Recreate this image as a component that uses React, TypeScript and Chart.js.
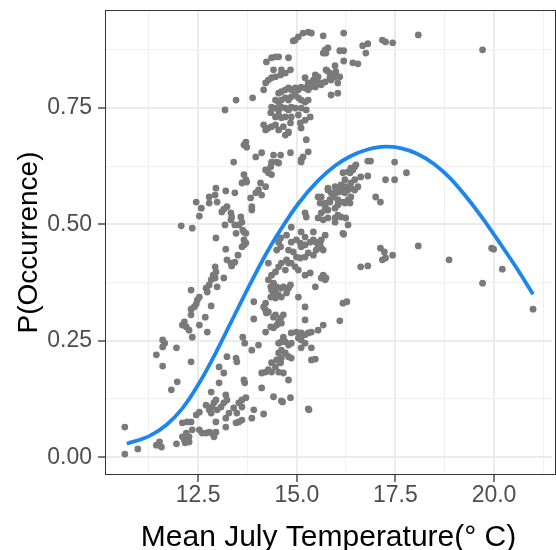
import React, { useEffect, useRef } from "react";
import { Chart, registerables } from "chart.js";

Chart.register(...registerables);

// ---------- data: [mean July temperature (°C), P(occurrence)] ----------
const upperCluster: [number, number][] = [
  [14.96, 0.896], [15.04, 0.903], [15.29, 0.913], [15.37, 0.911], [15.16, 0.911], [14.91, 0.894],
  [15.67, 0.905], [16.19, 0.911], [18.08, 0.907], [19.71, 0.875],
  [15.67, 0.868], [15.74, 0.868], [15.72, 0.875], [15.79, 0.879], [16.09, 0.873], [16.19, 0.873],
  [16.67, 0.884], [16.80, 0.888], [17.17, 0.896], [17.25, 0.892], [17.43, 0.890], [16.75, 0.868],
  [16.42, 0.847], [16.55, 0.845], [16.19, 0.851], [15.77, 0.830], [15.97, 0.841], [15.99, 0.828],
  [16.09, 0.817], [15.87, 0.810], [15.72, 0.806], [15.59, 0.804], [15.87, 0.778], [16.04, 0.782],
  [15.84, 0.825],
  [14.23, 0.849], [14.36, 0.858], [14.46, 0.860], [14.54, 0.860], [14.79, 0.858], [14.41, 0.832],
  [14.61, 0.832], [14.84, 0.832], [14.21, 0.804], [14.28, 0.810], [14.36, 0.815], [14.46, 0.817],
  [14.59, 0.821], [14.71, 0.825], [14.16, 0.789], [13.88, 0.772], [13.46, 0.767], [13.18, 0.746],
  [15.21, 0.815], [15.29, 0.804], [15.42, 0.810], [15.47, 0.821], [15.54, 0.817], [15.74, 0.832],
  [15.84, 0.815], [15.97, 0.817], [16.04, 0.804],
  [14.54, 0.782], [14.61, 0.785], [14.71, 0.789], [14.79, 0.793], [14.86, 0.789], [14.96, 0.793],
  [15.04, 0.789], [15.11, 0.795], [15.21, 0.793], [15.29, 0.789], [15.34, 0.795], [15.37, 0.800],
  [15.47, 0.795], [15.54, 0.804], [15.62, 0.800],
  [14.46, 0.767], [14.54, 0.763], [14.61, 0.767], [14.71, 0.772], [14.79, 0.767], [14.86, 0.774],
  [14.96, 0.778], [15.04, 0.772], [15.11, 0.767], [15.21, 0.763], [15.29, 0.767],
  [14.36, 0.752], [14.46, 0.750], [14.54, 0.746], [14.61, 0.752], [14.71, 0.750], [14.79, 0.746],
  [14.86, 0.752], [14.96, 0.750], [15.11, 0.750], [15.24, 0.746],
  [14.34, 0.740], [14.46, 0.731], [14.54, 0.735], [14.61, 0.729], [14.71, 0.731], [14.86, 0.731],
  [15.04, 0.735],
  [14.16, 0.714], [14.21, 0.703], [14.28, 0.707], [14.36, 0.710], [14.46, 0.714], [14.54, 0.703],
  [14.66, 0.710], [14.79, 0.699], [14.84, 0.718], [15.09, 0.718], [15.11, 0.707], [15.21, 0.724],
  [15.34, 0.731],
  [15.24, 0.682], [14.79, 0.697], [14.71, 0.692], [13.71, 0.677], [13.66, 0.671], [13.73, 0.666],
  [13.96, 0.645], [14.11, 0.654], [14.41, 0.649], [14.59, 0.649], [14.84, 0.654], [15.29, 0.656],
  [15.16, 0.645], [14.36, 0.634], [14.54, 0.632], [15.11, 0.639], [13.40, 0.634],
];

const upperMidBand: [number, number][] = [
  [13.66, 0.607], [13.71, 0.596], [13.61, 0.589], [13.73, 0.591], [14.21, 0.617], [14.28, 0.611],
  [14.34, 0.624], [14.36, 0.607], [14.08, 0.589], [14.21, 0.581], [14.03, 0.574], [13.96, 0.568],
  [14.11, 0.563], [13.83, 0.557], [13.86, 0.538], [13.86, 0.531], [13.58, 0.516], [13.61, 0.505],
  [13.53, 0.499], [13.71, 0.481], [13.66, 0.467], [13.71, 0.460], [14.49, 0.634], [15.11, 0.634],
  [12.95, 0.578], [13.20, 0.572], [13.43, 0.568], [12.78, 0.559], [12.93, 0.563], [12.45, 0.548],
  [12.78, 0.546], [12.98, 0.548], [12.58, 0.535], [12.53, 0.518], [13.15, 0.533], [13.23, 0.538],
  [13.10, 0.527], [13.33, 0.525], [13.35, 0.516], [13.33, 0.510], [13.63, 0.488], [12.07, 0.497],
  [12.35, 0.492], [13.18, 0.499], [13.43, 0.499], [13.46, 0.481], [13.66, 0.484], [12.95, 0.471],
  [13.61, 0.452], [13.20, 0.447], [13.51, 0.434], [13.23, 0.424], [13.33, 0.417], [13.43, 0.419],
  [13.35, 0.411], [12.93, 0.409], [12.95, 0.398], [12.88, 0.391], [12.93, 0.385], [12.83, 0.381],
  [12.78, 0.370], [12.70, 0.363], [12.73, 0.355], [13.15, 0.385], [12.98, 0.366], [12.32, 0.359],
  [12.53, 0.344], [12.48, 0.338], [12.45, 0.329], [12.40, 0.323], [12.32, 0.318], [12.83, 0.325],
  [13.66, 0.456],
];

const leftScatter: [number, number][] = [
  [12.32, 0.306], [12.15, 0.291], [12.10, 0.284], [12.20, 0.280], [12.27, 0.273], [12.35, 0.258],
  [12.68, 0.301], [12.73, 0.269], [12.53, 0.284], [11.60, 0.252], [11.65, 0.245], [11.60, 0.237],
  [11.95, 0.235], [11.44, 0.220], [11.60, 0.196], [12.32, 0.205], [13.03, 0.194], [13.23, 0.216],
  [13.46, 0.213], [13.48, 0.205], [13.63, 0.258], [13.68, 0.245], [13.86, 0.230], [14.03, 0.241],
  [13.91, 0.297], [13.15, 0.181], [13.03, 0.160], [12.83, 0.140], [11.97, 0.162], [11.82, 0.145],
  [13.66, 0.166], [13.68, 0.160],
];

const midCluster: [number, number][] = [
  [15.21, 0.525], [15.24, 0.516], [15.62, 0.559], [15.79, 0.574], [15.97, 0.581], [16.12, 0.585],
  [16.22, 0.596], [16.35, 0.611], [16.42, 0.617], [15.59, 0.546], [15.72, 0.538], [15.84, 0.548],
  [15.92, 0.559], [15.99, 0.568], [16.09, 0.570], [16.17, 0.574], [16.24, 0.581], [16.37, 0.589],
  [16.47, 0.596], [15.79, 0.531], [15.97, 0.535], [16.04, 0.542], [16.22, 0.546], [16.30, 0.553],
  [15.54, 0.514], [15.67, 0.510], [15.79, 0.514], [15.97, 0.514], [16.04, 0.520], [16.12, 0.516],
  [16.24, 0.514], [16.30, 0.499], [14.86, 0.494], [15.11, 0.484], [15.21, 0.473], [15.42, 0.484],
  [15.72, 0.477], [16.17, 0.481], [14.74, 0.477], [14.54, 0.462], [14.59, 0.452], [14.49, 0.445],
  [14.86, 0.462], [14.99, 0.467], [15.09, 0.460], [15.11, 0.452], [15.21, 0.456], [15.34, 0.462],
  [15.42, 0.467], [15.49, 0.462], [15.59, 0.460], [15.62, 0.449], [15.67, 0.445], [14.79, 0.445],
  [14.91, 0.441], [14.99, 0.430], [15.09, 0.428], [15.21, 0.430], [15.29, 0.439], [15.42, 0.434],
  [15.49, 0.445], [14.74, 0.424], [14.61, 0.417], [14.54, 0.409], [14.46, 0.398], [14.36, 0.391],
  [14.86, 0.417], [14.96, 0.409], [15.04, 0.402], [15.21, 0.391], [15.34, 0.396], [14.28, 0.381],
  [14.41, 0.374], [14.49, 0.366], [14.59, 0.363], [14.66, 0.366], [14.79, 0.363], [14.84, 0.370],
  [14.36, 0.359], [14.46, 0.353], [14.54, 0.348], [14.34, 0.344], [14.61, 0.344], [14.74, 0.353],
  [14.21, 0.331], [14.16, 0.323], [15.04, 0.344], [15.47, 0.366], [15.67, 0.387], [15.74, 0.385],
  [15.21, 0.323], [14.59, 0.471], [14.28, 0.417], [14.71, 0.402], [14.79, 0.417], [15.54, 0.452],
];

const rightCluster: [number, number][] = [
  [16.80, 0.636], [16.87, 0.636], [17.48, 0.634], [17.78, 0.611], [17.25, 0.596], [17.48, 0.596],
  [17.00, 0.559], [17.12, 0.548], [16.17, 0.611], [16.30, 0.613], [16.37, 0.621], [16.47, 0.624],
  [16.50, 0.628], [16.62, 0.602], [16.80, 0.604], [15.79, 0.578], [15.87, 0.568], [16.04, 0.574],
  [16.22, 0.568], [16.30, 0.574], [16.37, 0.578], [16.47, 0.574], [16.55, 0.581], [15.54, 0.559],
  [15.72, 0.546], [15.84, 0.553], [16.04, 0.553], [16.17, 0.548], [16.35, 0.546], [16.37, 0.559],
  [15.62, 0.525], [15.72, 0.531], [15.97, 0.505], [16.19, 0.479], [15.62, 0.467], [17.12, 0.449],
  [18.08, 0.454], [19.94, 0.449], [17.22, 0.441], [17.17, 0.424], [17.25, 0.428], [17.43, 0.434],
  [18.86, 0.424], [19.99, 0.447], [20.21, 0.404], [19.71, 0.374], [20.99, 0.318], [16.62, 0.409],
  [16.80, 0.411], [15.67, 0.391], [15.72, 0.381], [15.62, 0.385], [16.17, 0.331], [16.27, 0.334],
  [16.09, 0.293], [15.54, 0.273],
];

const lowerMidCluster: [number, number][] = [
  [14.21, 0.316], [14.28, 0.312], [14.46, 0.306], [14.59, 0.299], [14.66, 0.306], [14.54, 0.291],
  [14.49, 0.284], [14.41, 0.278], [14.34, 0.280], [14.21, 0.269], [15.21, 0.295], [15.67, 0.284],
  [15.37, 0.269], [15.29, 0.267], [15.21, 0.263], [15.11, 0.267], [14.99, 0.269], [14.86, 0.267],
  [14.66, 0.258], [14.61, 0.248], [14.54, 0.245], [14.71, 0.248], [14.79, 0.241], [14.86, 0.245],
  [15.04, 0.256], [15.11, 0.252], [15.21, 0.245], [15.11, 0.235], [15.37, 0.235], [14.61, 0.230],
  [14.54, 0.224], [14.71, 0.224], [14.79, 0.216], [14.86, 0.213], [14.61, 0.213], [14.49, 0.209],
  [14.59, 0.203], [14.36, 0.203], [14.46, 0.194], [14.28, 0.188], [14.21, 0.183], [14.36, 0.183],
  [14.54, 0.183], [14.66, 0.181], [14.11, 0.181], [15.37, 0.209], [15.47, 0.211], [14.79, 0.166],
  [14.11, 0.149], [14.41, 0.130], [14.61, 0.121], [14.84, 0.128], [15.29, 0.104], [13.61, 0.123],
  [13.71, 0.128], [13.53, 0.117], [13.91, 0.102], [14.16, 0.093], [13.86, 0.084], [13.61, 0.080],
  [13.91, 0.334], [14.34, 0.366], [14.41, 0.353], [14.46, 0.342], [14.23, 0.310], [14.41, 0.301],
  [14.61, 0.288], [14.64, 0.119], [15.31, 0.102],
];

const lowerBand: [number, number][] = [
  [13.20, 0.134], [13.23, 0.123], [13.15, 0.117], [13.08, 0.108], [12.98, 0.102], [12.90, 0.117],
  [12.95, 0.123], [12.85, 0.108], [12.70, 0.112], [12.78, 0.102], [12.83, 0.095], [12.53, 0.097],
  [12.45, 0.091], [12.10, 0.074], [12.22, 0.076], [12.32, 0.076], [12.35, 0.059], [12.20, 0.052],
  [12.10, 0.044], [12.22, 0.037], [12.53, 0.059], [12.60, 0.052], [12.70, 0.052], [12.78, 0.054],
  [12.85, 0.052], [12.95, 0.054], [12.90, 0.044], [12.95, 0.076], [13.20, 0.084], [13.28, 0.095],
  [13.40, 0.106], [13.48, 0.095], [13.61, 0.108], [13.46, 0.074], [13.53, 0.076], [13.20, 0.065],
  [12.27, 0.033], [12.17, 0.031], [12.15, 0.037], [11.95, 0.029], [11.52, 0.033], [11.57, 0.022],
  [11.44, 0.026], [10.97, 0.018], [10.64, 0.065], [10.64, 0.007], [12.27, 0.044],
];

// fitted curve
const curveTemp = [
  10.69, 11.27, 11.70, 12.10, 12.53, 12.95, 13.35, 13.78, 14.21, 14.54, 15.04, 15.54, 15.97,
  16.37, 16.80, 17.25, 17.63, 18.05, 18.48, 18.88, 19.31, 19.74, 20.14, 20.56, 20.99,
];
const curveOcc = [
  0.029, 0.046, 0.070, 0.105, 0.160, 0.225, 0.293, 0.366, 0.435, 0.482, 0.545, 0.594, 0.626,
  0.647, 0.661, 0.667, 0.664, 0.652, 0.630, 0.600, 0.558, 0.510, 0.461, 0.408, 0.350,
];

const xMajorTicks = [12.5, 15, 17.5, 20];
const xMinorTicks = [11.25, 13.75, 16.25, 18.75, 21.25];
const yMajorTicks = [0, 0.25, 0.5, 0.75];
const yMinorTicks = [0.125, 0.375, 0.625, 0.875];

const FONT = "'Liberation Sans', Arial, sans-serif";

const isIn = (arr: number[], v: number) => arr.some((m) => Math.abs(m - v) < 1e-6);

const panelBorder = {
  id: "panelBorder",
  afterDraw(chart: any) {
    const { ctx, chartArea } = chart;
    const { left, top, right, bottom } = chartArea;
    ctx.save();
    ctx.strokeStyle = "#333333";
    ctx.lineWidth = 1;
    ctx.strokeRect(left + 0.5, top + 0.5, right - left + 3, bottom - top - 1);
    ctx.restore();
  },
};

export default function App() {
  const ref = useRef<HTMLCanvasElement>(null);

  useEffect(() => {
    if (!ref.current) return;
    const all = [
      ...upperCluster,
      ...upperMidBand,
      ...leftScatter,
      ...midCluster,
      ...rightCluster,
      ...lowerMidCluster,
      ...lowerBand,
    ].map(([x, y]) => ({ x, y }));
    const curve = curveTemp.map((x, i) => ({ x, y: curveOcc[i] }));

    const gridColor = (major: number[]) => (ctx: any) =>
      ctx.tick && isIn(major, ctx.tick.value) ? "#EBEBEB" : "#F1F1F1";
    const gridWidth = (major: number[]) => (ctx: any) =>
      ctx.tick && isIn(major, ctx.tick.value) ? 2 : 1.2;
    const tickColor = (major: number[]) => (ctx: any) =>
      ctx.tick && isIn(major, ctx.tick.value) ? "#333333" : "rgba(0,0,0,0)";

    const chart = new Chart(ref.current, {
      type: "scatter",
      data: {
        datasets: [
          {
            type: "line",
            data: curve,
            borderColor: "#1C86EE",
            borderWidth: 3.8,
            pointRadius: 0,
            fill: false,
            cubicInterpolationMode: "monotone",
            order: 0,
          } as any,
          {
            data: all,
            backgroundColor: "#7A7A7A",
            borderWidth: 0,
            pointRadius: 3.4,
            order: 1,
          },
        ],
      },
      options: {
        responsive: false,
        animation: false,
        devicePixelRatio: 1,
        layout: { padding: { top: 10, right: 0, bottom: 0, left: 0 } },
        plugins: { legend: { display: false }, tooltip: { enabled: false } },
        scales: {
          x: {
            type: "linear",
            min: 10.138,
            max: 21.47,
            afterBuildTicks: (s: any) => {
              s.ticks = [...xMinorTicks, ...xMajorTicks]
                .sort((a, b) => a - b)
                .map((v) => ({ value: v }));
            },
            afterFit: (s: any) => {
              s.height = 75;
              s.paddingLeft = 0;
              s.paddingRight = 0;
            },
            ticks: {
              autoSkip: false,
              maxRotation: 0,
              padding: 0,
              color: "#4D4D4D",
              font: { family: FONT, size: 23 },
              callback: (v: any) => (isIn(xMajorTicks, Number(v)) ? Number(v).toFixed(1) : ""),
            },
            grid: {
              color: gridColor(xMajorTicks),
              lineWidth: gridWidth(xMajorTicks),
              tickColor: tickColor(xMajorTicks),
              tickLength: 7,
              tickWidth: 1.3,
            },
            border: { display: false },
            title: {
              display: true,
              text: "Mean July Temperature(\u00B0 C)",
              color: "#000000",
              font: { family: FONT, size: 30 },
              padding: { top: 0, bottom: -6 },
            },
          },
          y: {
            type: "linear",
            min: -0.038,
            max: 0.9605,
            afterBuildTicks: (s: any) => {
              s.ticks = [...yMinorTicks, ...yMajorTicks]
                .sort((a, b) => a - b)
                .map((v) => ({ value: v }));
            },
            afterFit: (s: any) => {
              s.width = 105;
              s.paddingTop = 0;
              s.paddingBottom = 0;
            },
            ticks: {
              autoSkip: false,
              padding: 6,
              color: "#4D4D4D",
              font: { family: FONT, size: 23 },
              callback: (v: any) => (isIn(yMajorTicks, Number(v)) ? Number(v).toFixed(2) : ""),
            },
            grid: {
              color: gridColor(yMajorTicks),
              lineWidth: gridWidth(yMajorTicks),
              tickColor: tickColor(yMajorTicks),
              tickLength: 7,
              tickWidth: 1.3,
            },
            border: { display: false },
            title: {
              display: true,
              text: "P(Occurrence)",
              color: "#000000",
              font: { family: FONT, size: 28 },
              padding: { top: 12, bottom: 0 },
            },
          },
        },
      },
      plugins: [panelBorder],
    });
    return () => chart.destroy();
  }, []);

  return (
    <div
      style={{
        position: "fixed",
        left: 0,
        top: 0,
        width: 556,
        height: 550,
        background: "#ffffff",
      }}
    >
      <canvas
        ref={ref}
        width={556}
        height={550}
        style={{ width: 556, height: 550, display: "block" }}
      />
    </div>
  );
}
